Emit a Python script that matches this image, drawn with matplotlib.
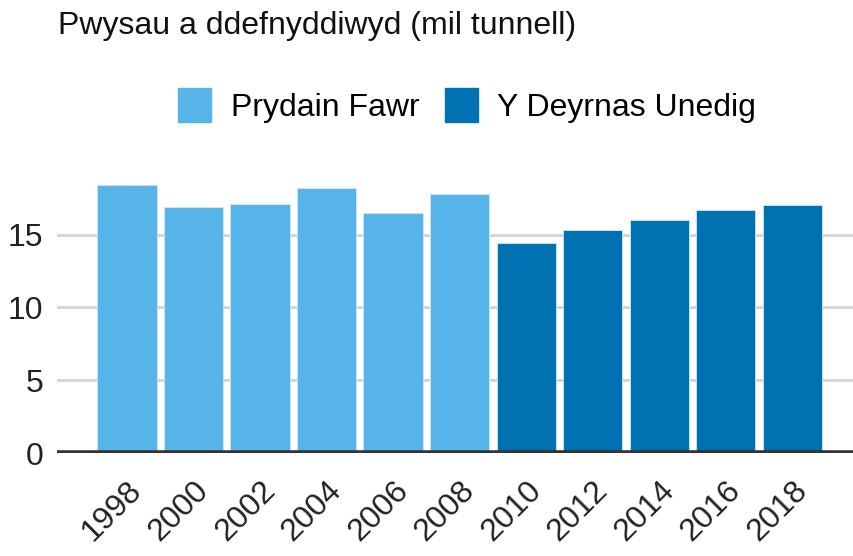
import matplotlib.pyplot as plt
import numpy as np

plt.rcParams['font.family'] = ['Liberation Sans', 'DejaVu Sans']

years = ['1998', '2000', '2002', '2004', '2006', '2008',
         '2010', '2012', '2014', '2016', '2018']
values = [18.4, 16.9, 17.1, 18.2, 16.5, 17.8,
          14.4, 15.3, 16.0, 16.7, 17.0]
region = ['Prydain Fawr'] * 6 + ['Y Deyrnas Unedig'] * 5
colours = {'Prydain Fawr': '#56b4e9', 'Y Deyrnas Unedig': '#0072b2'}

fig = plt.figure(figsize=(8.54, 5.56), dpi=100)
ax = fig.add_axes([0.067, 0.185, 0.933, 0.498])

x = np.arange(len(years))
bar_colours = [colours[r] for r in region]
ax.bar(x, values, width=0.89, color=bar_colours, edgecolor='#cfe8f8',
       linewidth=0.6, zorder=2)

ax.set_xlim(-1.05, 10.93)
ax.set_ylim(0, 19)
ax.set_yticks([0, 5, 10, 15])
ax.yaxis.grid(True, color='#d4d4d4', linewidth=2)
ax.set_axisbelow(True)
ax.axhline(0, color='#333333', linewidth=4, zorder=3)

for s in ax.spines.values():
    s.set_visible(False)
ax.tick_params(axis='both', length=0, labelsize=23, colors='#222222')
ax.tick_params(axis='y', pad=10)
ax.tick_params(axis='x', pad=16)
ax.set_xticks(x)
ax.set_xticklabels(years, rotation=45, ha='right', rotation_mode='anchor')

fig.text(0.068, 0.953, 'Pwysau a ddefnyddiwyd (mil tunnell)', fontsize=23,
         va='center', ha='left', color='#111111')

# legend boxes and labels
handles = [plt.Rectangle((0, 0), 1, 1, color=colours[k]) for k in colours]
fig.legend(handles, list(colours), loc='center', bbox_to_anchor=(0.547, 0.811),
           ncol=2, frameon=False, fontsize=23, handlelength=1.05,
           handleheight=1.3, handletextpad=0.6, columnspacing=0.8)

fig.savefig('out.png', dpi=100)
